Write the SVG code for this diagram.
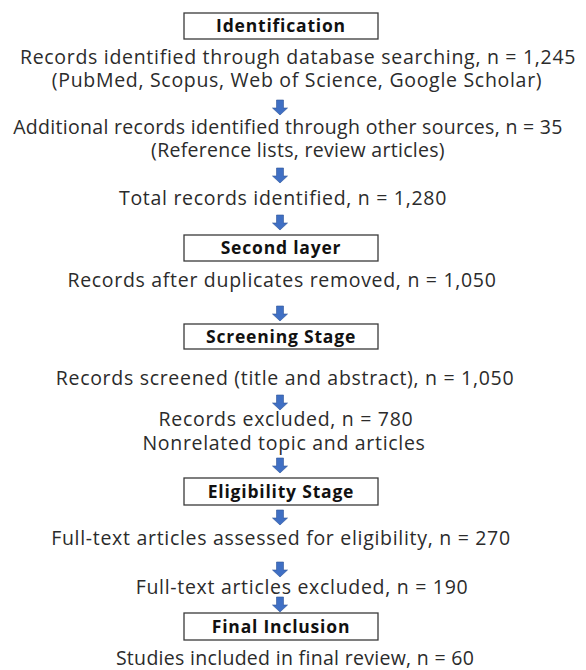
<svg xmlns="http://www.w3.org/2000/svg" width="586" height="670" viewBox="0 0 586 670">
  <defs>
    <!-- down block arrow, tip at (0,15) -->
    <path id="down" d="M-3.5,0 H3.5 V8 H7.5 L0,15 L-7.5,8 H-3.5 Z"/>
  </defs>
  <style>
    .box { fill: #ffffff; stroke: #3a3a3a; stroke-width: 1.3; }
    .stage { font-family: "Open Sans", Lato, sans-serif; font-weight: 700; font-size: 17.5px; letter-spacing: 0.8px; fill: #111; text-anchor: middle; }
    .txt { font-family: "Open Sans", Lato, sans-serif; font-size: 19.5px; letter-spacing: 0.7px; fill: #2b2b2b; text-anchor: middle; }
    .tight { letter-spacing: 0.3px; }
    .arrow { fill: #3f6fc4; stroke: #2f5597; stroke-width: 0.6; }
  </style>
  <rect width="586" height="670" fill="#ffffff"/>

  <g id="identification">
    <rect class="box" x="184" y="13" width="194" height="26"/>
    <text class="stage" x="281" y="32">Identification</text>
  </g>
  <g id="database-records">
    <text class="txt" x="298" y="64">Records identified through database searching, n = 1,245</text>
    <text class="txt" x="297" y="87">(PubMed, Scopus, Web of Science, Google Scholar)</text>
  </g>
  <g id="other-sources">
    <text class="txt tight" x="288" y="134">Additional records identified through other sources, n = 35</text>
    <text class="txt tight" x="298" y="157">(Reference lists, review articles)</text>
  </g>
  <g id="total-records">
    <text class="txt" x="283" y="205">Total records identified, n = 1,280</text>
  </g>
  <g id="second-layer">
    <rect class="box" x="184" y="235" width="194" height="26"/>
    <text class="stage" x="281" y="254">Second layer</text>
  </g>
  <g id="duplicates-removed">
    <text class="txt" x="282" y="287">Records after duplicates removed, n = 1,050</text>
  </g>
  <g id="screening-stage">
    <rect class="box" x="184" y="324" width="194" height="25"/>
    <text class="stage" x="281" y="342.5">Screening Stage</text>
  </g>
  <g id="records-screened">
    <text class="txt" x="285" y="385">Records screened (title and abstract), n = 1,050</text>
  </g>
  <g id="records-excluded">
    <text class="txt" x="286" y="426">Records excluded, n = 780</text>
    <text class="txt" x="284" y="450">Nonrelated topic and articles</text>
  </g>
  <g id="eligibility-stage">
    <rect class="box" x="184" y="478" width="194" height="27"/>
    <text class="stage" x="281" y="497.5">Eligibility Stage</text>
  </g>
  <g id="fulltext-assessed">
    <text class="txt" x="281" y="545">Full-text articles assessed for eligibility, n = 270</text>
  </g>
  <g id="fulltext-excluded">
    <text class="txt" x="302" y="594">Full-text articles excluded, n = 190</text>
  </g>
  <g id="final-inclusion">
    <rect class="box" x="184" y="613" width="194" height="27"/>
    <text class="stage" x="281" y="632.5">Final Inclusion</text>
  </g>
  <g id="studies-included">
    <text class="txt tight" x="295" y="665">Studies included in final review, n = 60</text>
  </g>

  <g id="connectors" class="arrow">
    <use href="#down" x="280" y="100"/>
    <use href="#down" x="280" y="168"/>
    <use href="#down" x="280" y="215"/>
    <use href="#down" x="280" y="306"/>
    <use href="#down" x="280" y="395"/>
    <use href="#down" x="280" y="458"/>
    <use href="#down" x="280" y="510"/>
    <use href="#down" x="280" y="562"/>
    <use href="#down" x="280" y="597"/>
  </g>
</svg>
